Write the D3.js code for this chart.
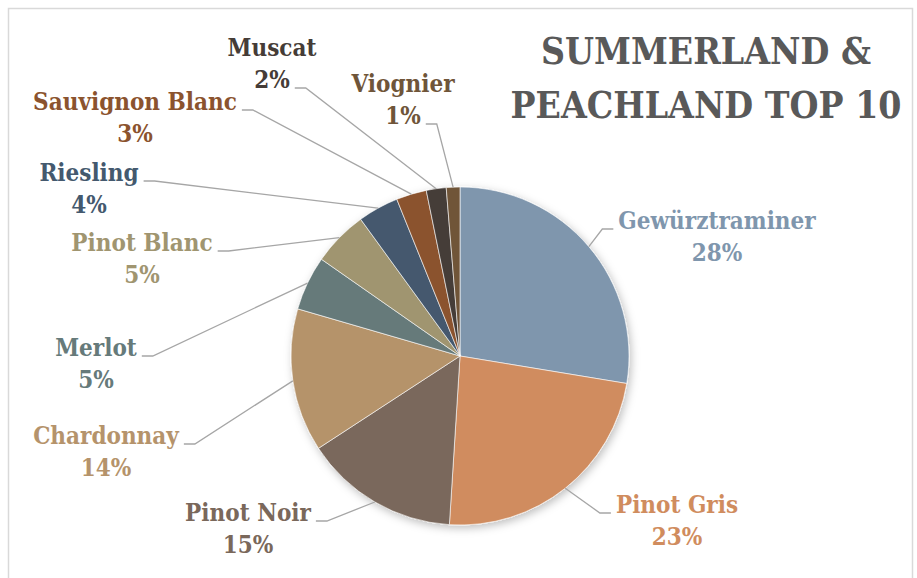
<!DOCTYPE html>
<html>
<head>
<meta charset="utf-8">
<script src="https://cdn.jsdelivr.net/npm/d3@7"></script>
<style>
  body { margin: 0; background: #fff; }
  text { font-family: "DejaVu Serif Condensed", "DejaVu Serif", serif; font-weight: bold; }
</style>
</head>
<body>
<div id="root"></div>
<script>
// DATA
const varieties = ["Gewürztraminer", "Pinot Gris", "Pinot Noir", "Chardonnay", "Merlot",
  "Pinot Blanc", "Riesling", "Sauvignon Blanc", "Muscat", "Viognier"];
const shares = [27.6, 23.4, 14.8, 13.7, 5.2, 5.3, 3.9, 2.9, 1.9, 1.3];
const titleLines = ["SUMMERLAND &", "PEACHLAND TOP 10"];

// STYLES
const colors = ["#7f96ad", "#d08c5e", "#7a685b", "#b5936b", "#667a7a",
  "#a09570", "#44596e", "#8b532e", "#453c37", "#6f5539"];

// LABEL LAYOUT: text centre x, line-1 baseline y, side of leader, row it joins
const labelLayout = [
  {x: 717, y: 229, side: "left",  row: 0},
  {x: 677, y: 513, side: "left",  row: 0},
  {x: 248, y: 521, side: "right", row: 0},
  {x: 106, y: 444, side: "right", row: 0},
  {x: 96,  y: 356, side: "right", row: 0},
  {x: 142, y: 251, side: "right", row: 0},
  {x: 89,  y: 181, side: "right", row: 0},
  {x: 135, y: 110, side: "right", row: 0},
  {x: 272, y: 56,  side: "right", row: 1},
  {x: 403, y: 92,  side: "right", row: 1}
];

// DIMENSIONS
const width = 917, height = 578;
const cx = 460, cy = 356, radius = 169;
const lineGap = 32;

const svg = d3.select("#root").append("svg")
  .attr("width", width)
  .attr("height", height);

// shadow under the pie
const defs = svg.append("defs");
const f = defs.append("filter").attr("id", "shadow")
  .attr("x", "-20%").attr("y", "-20%").attr("width", "140%").attr("height", "140%");
f.append("feDropShadow")
  .attr("dx", 2).attr("dy", 3).attr("stdDeviation", 4)
  .attr("flood-color", "#000").attr("flood-opacity", 0.25);

// chart border
svg.append("rect")
  .attr("x", 8.5).attr("y", 8.5)
  .attr("width", 904).attr("height", 620)
  .attr("fill", "none")
  .attr("stroke", "#d9d9d9")
  .attr("stroke-width", 1.5);

// TITLE
svg.append("text")
  .attr("x", 706).attr("y", 64)
  .attr("text-anchor", "middle")
  .attr("fill", "#595959")
  .style("font-size", "37px")
  .selectAll("tspan")
  .data(titleLines)
  .join("tspan")
  .attr("x", 706)
  .attr("dy", (d, i) => i === 0 ? 0 : 54)
  .text(d => d);

// PIE
const data = varieties.map((name, i) => ({name, value: shares[i], color: colors[i], layout: labelLayout[i]}));
const pie = d3.pie().sort(null).value(d => d.value);
const arcs = pie(data);
const arc = d3.arc().innerRadius(0).outerRadius(radius);
const edgeArc = d3.arc().innerRadius(radius).outerRadius(radius);

const g = svg.append("g").attr("transform", `translate(${cx},${cy})`);

g.append("g")
  .attr("filter", "url(#shadow)")
  .selectAll("path")
  .data(arcs)
  .join("path")
  .attr("d", arc)
  .attr("fill", d => d.data.color)
  .attr("stroke", "#ffffff")
  .attr("stroke-width", 0.6);

// LABELS
const labels = svg.append("g");
const leaders = svg.append("g");

arcs.forEach(d => {
  const L = d.data.layout;
  const t = labels.append("text")
    .attr("text-anchor", "middle")
    .attr("fill", d.data.color)
    .style("font-size", "24px");
  const rows = [d.data.name, Math.round(d.data.value) + "%"];
  const spans = rows.map((r, i) => t.append("tspan")
    .attr("x", L.x)
    .attr("y", L.y + i * lineGap)
    .text(r));

  const w = spans[L.row].node().getComputedTextLength();
  const ay = L.y + L.row * lineGap;
  const edge = edgeArc.centroid(d);
  const ex = cx + edge[0], ey = cy + edge[1];
  let x0, x1;
  if (L.side === "left") {
    x0 = L.x - w / 2 - 5;
    x1 = x0 - 11;
  } else {
    x0 = L.x + w / 2 + 5;
    x1 = x0 + 11;
  }
  leaders.append("polyline")
    .attr("points", `${x0},${ay} ${x1},${ay} ${ex},${ey}`)
    .attr("fill", "none")
    .attr("stroke", "#a6a6a6")
    .attr("stroke-width", 1.3);
});
</script>
</body>
</html>
